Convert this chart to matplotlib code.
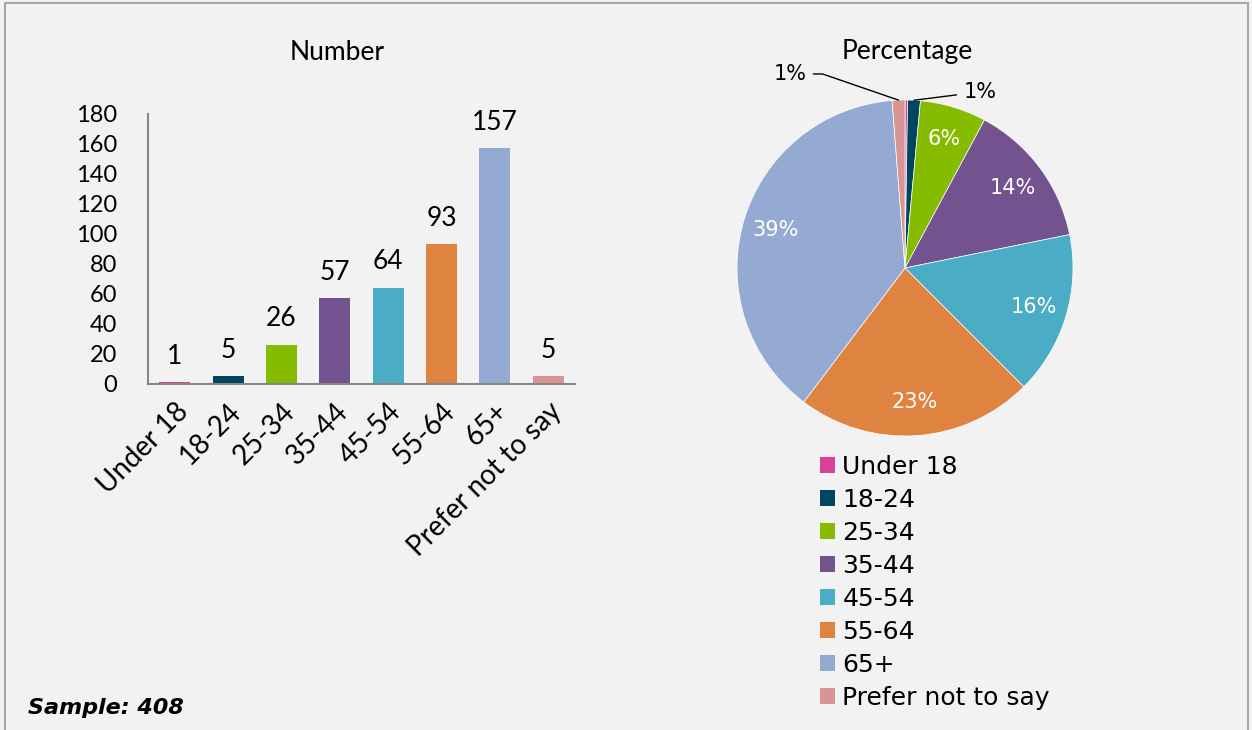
import numpy as np
import matplotlib.pyplot as plt
from matplotlib.patches import Patch, Rectangle

# data
categories = ['Under 18', '18-24', '25-34', '35-44', '45-54', '55-64', '65+', 'Prefer not to say']
counts = [1, 5, 26, 57, 64, 93, 157, 5]
pie_labels = ['', '1%', '6%', '14%', '16%', '23%', '39%', '1%']
colors = ['#D9409A', '#00465F', '#86BC00', '#725390', '#4BACC6', '#DE8440', '#95AAD2', '#D99594']
sample_size = 408

plt.rcParams['font.family'] = ['DejaVu Sans']
bg = '#F2F2F2'
cal = 'Lato'   # stands in for the Calibri-ish axis text

fig = plt.figure(figsize=(12.52, 7.30), dpi=100, facecolor=bg)

# frame round the figure
fig.patches.append(Rectangle((5 / 1252, -0.02), 1243 / 1252, 1.0 - 3 / 730 + 0.02,
                             transform=fig.transFigure, fill=False,
                             edgecolor='#A6A6A6', lw=1.5))

# ---- bar chart ----
ax = fig.add_axes([148 / 1252, 1 - 384 / 730, 427 / 1252, 270 / 730])
ax.set_facecolor(bg)
x = np.arange(len(categories))
ax.bar(x, counts, width=0.58, color=colors)
for xi, v in zip(x, counts):
    ax.text(xi, v + 9, str(v), ha='center', va='bottom', fontsize=19, family=cal)
ax.set_ylim(0, 180)
ax.set_xlim(-0.5, len(categories) - 0.5)
ax.set_yticks(np.arange(0, 181, 20))
ax.tick_params(axis='y', length=0, pad=22)
ax.tick_params(axis='x', length=0, pad=10)
ax.set_xticks(x)
ax.set_xticklabels(categories, rotation=45, ha='right', rotation_mode='anchor')
for lab in ax.get_yticklabels():
    lab.set_fontfamily(cal)
    lab.set_fontsize(17)
for lab in ax.get_xticklabels():
    lab.set_fontfamily(cal)
    lab.set_fontsize(20)
for s in ['top', 'right']:
    ax.spines[s].set_visible(False)
for s in ['left', 'bottom']:
    ax.spines[s].set_color('#868686')
    ax.spines[s].set_linewidth(1.5)
fig.text(337 / 1252, 1 - 52 / 730, 'Number', ha='center', va='center', fontsize=19, family=cal)

# ---- pie chart ----
pax = fig.add_axes([(905 - 168) / 1252, 1 - (268 + 168) / 730, 336 / 1252, 336 / 730])
wedges, _ = pax.pie(counts, colors=colors, startangle=90, counterclock=False,
                    wedgeprops=dict(edgecolor='white', linewidth=0.5))
pax.set_xlim(-1, 1)
pax.set_ylim(-1, 1)
pax.set_aspect('equal')


def mid_angle(i):
    w = wedges[i]
    return np.deg2rad((w.theta1 + w.theta2) / 2)


# labels inside the big slices
for i, lab in enumerate(pie_labels):
    if lab and counts[i] > 10:
        a = mid_angle(i)
        pax.text(0.8 * np.cos(a), 0.8 * np.sin(a), lab, color='white', fontsize=15,
                 ha='center', va='center')

# leader-line labels for the small slices
i_pref = categories.index('Prefer not to say')
i_1824 = categories.index('18-24')
a = mid_angle(i_pref)
pax.annotate(pie_labels[i_pref], xy=(np.cos(a), np.sin(a)),
             xytext=(-0.685, 1.155), ha='center', va='center', fontsize=15,
             annotation_clip=False,
             arrowprops=dict(arrowstyle='-', color='black', lw=1, shrinkA=3, shrinkB=0,
                             connectionstyle='angle,angleA=0,angleB=161,rad=0'))
a = mid_angle(i_1824)
pax.annotate(pie_labels[i_1824], xy=(np.cos(a), np.sin(a)),
             xytext=(0.446, 1.048), ha='center', va='center', fontsize=15,
             annotation_clip=False,
             arrowprops=dict(arrowstyle='-', color='black', lw=1, shrinkA=3, shrinkB=0))

fig.text(907 / 1252, 1 - 52 / 730, 'Percentage', ha='center', va='center', fontsize=19, family=cal)

handles = [Patch(facecolor=c, edgecolor='none') for c in colors]
fig.legend(handles, categories, loc='upper left', bbox_to_anchor=(820 / 1252, 1 - 455 / 730),
           frameon=False, fontsize=18, handlelength=0.6, handleheight=0.6,
           handletextpad=0.3, labelspacing=0.36, borderaxespad=0, borderpad=0)

fig.text(28 / 1252, 1 - 708 / 730, 'Sample: {}'.format(sample_size), fontsize=16,
         fontweight='bold', fontstyle='italic', va='center', ha='left')

fig.savefig('out.png', dpi=100, facecolor=bg)
